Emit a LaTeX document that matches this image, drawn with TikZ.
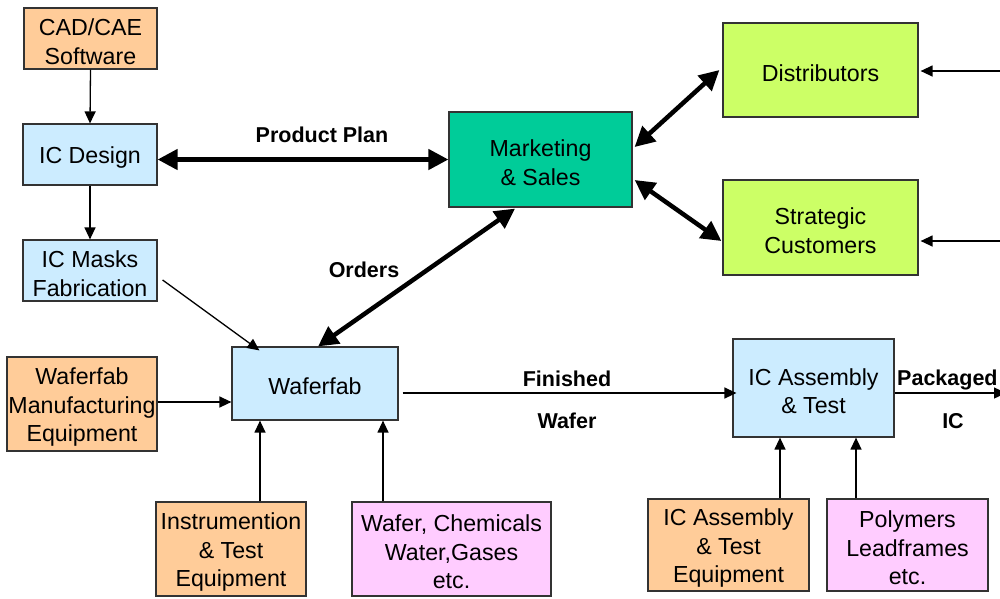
\documentclass[tikz,border=0pt]{standalone}
\usepackage{fontspec}
\setmainfont{Liberation Sans}
\usetikzlibrary{arrows.meta}
\definecolor{bxblue}{HTML}{CCECFF}
\definecolor{bxorange}{HTML}{FFCC99}
\definecolor{bxpink}{HTML}{FFCCFF}
\definecolor{bxgreen}{HTML}{CCFF66}
\definecolor{bxteal}{HTML}{00CC99}
\definecolor{bxline}{HTML}{333333}
\newcommand\topstrut{\rule{0pt}{23pt}}
\tikzset{
  box/.style={draw=bxline, line width=1.2pt, inner sep=0pt, align=center,
    font=\fontsize{23.2}{28.5}\selectfont},
  lbl/.style={inner sep=0pt, font=\fontsize{21.5}{26}\selectfont\bfseries},
  thin/.style={line width=1.3pt, -{Triangle[length=12pt,width=11pt]}},
  thick/.style={line width=4.5pt, {Triangle[length=20pt,width=20pt]}-{Triangle[length=20pt,width=20pt]}}
}
\begin{document}
\begin{tikzpicture}[x=1pt,y=-1pt]
\useasboundingbox (0,0) rectangle (1000,598);
% boxes
\node[box, fill=bxorange, minimum width=133pt, minimum height=61pt] (cad) at (90.5,38.5) {\topstrut CAD/CAE\\Software};
\node[box, fill=bxblue, minimum width=134pt, minimum height=61pt] (design) at (90,154.5) {\topstrut IC Design};
\node[box, fill=bxblue, minimum width=134pt, minimum height=61pt] (masks) at (90,270.5) {\topstrut IC Masks\\Fabrication};
\node[box, fill=bxteal, minimum width=183pt, minimum height=95pt] (ms) at (540.5,159.5) {\topstrut Marketing\\\& Sales};
\node[box, fill=bxgreen, minimum width=195pt, minimum height=94pt] (dist) at (820.5,70) {\topstrut Distributors};
\node[box, fill=bxgreen, minimum width=195pt, minimum height=95pt] (strat) at (820.5,227.5) {\topstrut Strategic\\Customers};
\node[box, fill=bxorange, minimum width=150pt, minimum height=94pt] (wme) at (82,404) {\topstrut Waferfab\\Manufacturing\\Equipment};
\node[box, fill=bxblue, minimum width=166pt, minimum height=73pt] (wf) at (315,383.5) {\topstrut Waferfab};
\node[box, fill=bxblue, minimum width=161pt, minimum height=98pt] (ict) at (813.5,388) {\topstrut IC Assembly\\\& Test};
\node[box, fill=bxorange, minimum width=150pt, minimum height=94pt] (inst) at (231,549) {\topstrut Instrumention\\\& Test\\Equipment};
\node[box, fill=bxpink, minimum width=199pt, minimum height=94pt] (wcg) at (451.5,549) {\topstrut Wafer, Chemicals\\Water,Gases\\etc.};
\node[box, fill=bxorange, minimum width=161pt, minimum height=92pt] (icte) at (728.5,545) {\topstrut IC Assembly\\\& Test\\Equipment};
\node[box, fill=bxpink, minimum width=161pt, minimum height=92pt] (poly) at (907.5,545) {\topstrut Polymers\\Leadframes\\etc.};
% labels
\node[lbl] (pplan) at (322,134.5) {Product Plan};
\node[lbl] (orders) at (364,270) {Orders};
\node[lbl] (fin) at (567,379) {Finished};
\node[lbl] (wafer) at (567,421) {Wafer};
\node[lbl, anchor=west] (pack) at (897,379.5) {Packaged};
\node[lbl] (ic) at (953,421) {IC};
% free ends
\coordinate (din) at (1000,71);
\coordinate (sin) at (1000,241);
\coordinate (pout) at (1006,393);
% thin connectors
\draw[thin] (cad.south) -- (design.north);
\draw[thin] (design.south) -- (masks.north);
\draw[thin] ([xshift=5,yshift=-9.5]masks.east) -- ([xshift=28,yshift=-4]wf.north west);
\draw[thin] ([yshift=2]wme.east) -- ([yshift=2]wme.east -| wf.west);
\draw[thin] ([xshift=29]inst.north) -- ([xshift=29]inst.north |- wf.south);
\draw[thin] ([xshift=-68.5]wcg.north) -- ([xshift=-68.5]wcg.north |- wf.south);
\draw[thin] ([xshift=4,yshift=-9.5]wf.east) -- ([xshift=4,yshift=-9.5]wf.east -| ict.west);
\draw[thin] ([yshift=-5]ict.east) -- (pout);
\draw[thin] ([xshift=51.5]icte.north) -- ([xshift=51.5]icte.north |- ict.south);
\draw[thin] ([xshift=-51.5]poly.north) -- ([xshift=-51.5]poly.north |- ict.south);
\draw[thin] (din) -- ([xshift=2,yshift=-1]dist.east);
\draw[thin] (sin) -- ([xshift=2,yshift=-13.5]strat.east);
% thick connectors
\draw[thick] (design.east |- ms.west) -- (ms.west);
\draw[thick] ([xshift=2,yshift=12.5]ms.east) -- ([xshift=-3]dist.west);
\draw[thick] ([xshift=2,yshift=-20.5]ms.east) -- ([xshift=-1,yshift=-13.5]strat.west);
\draw[thick] ([xshift=3]wf.north) -- ([xshift=-25.5,yshift=-1]ms.south);
\end{tikzpicture}
\end{document}
